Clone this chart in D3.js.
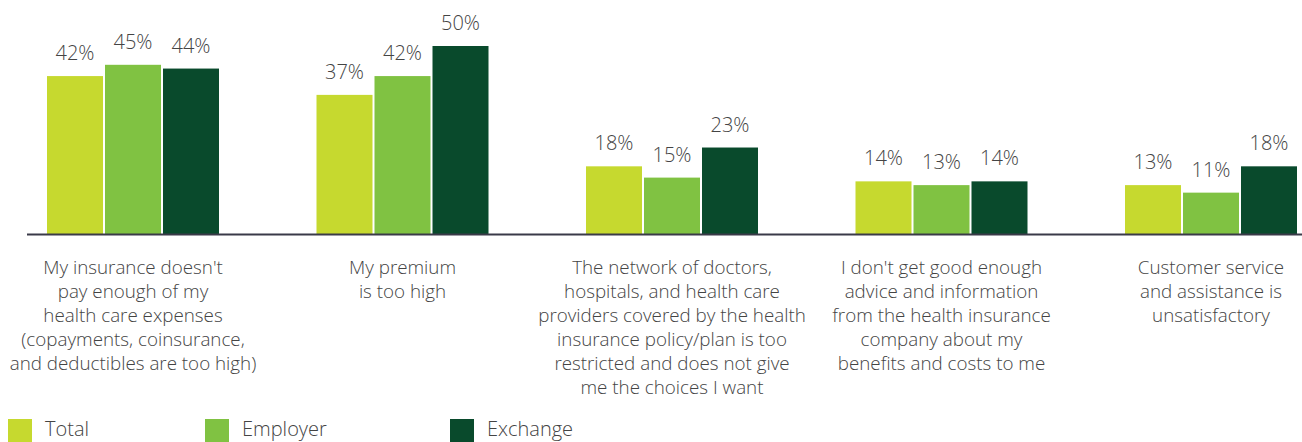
<!DOCTYPE html>
<html>
<head>
<meta charset="utf-8">
<script src="https://cdn.jsdelivr.net/npm/d3@7"></script>
<style>
  html, body { margin: 0; padding: 0; background: #fff; }
  svg { display: block; font-family: "Open Sans", "Noto Sans", sans-serif; }
</style>
</head>
<body>
<svg id="chart" width="1302" height="442"></svg>
<script>
// Reasons for dissatisfaction, each split into display lines
const categories = [
  ["My insurance doesn't", "pay enough of my", "health care expenses", "(copayments, coinsurance,", "and deductibles are too high)"],
  ["My premium", "is too high"],
  ["The network of doctors,", "hospitals, and health care", "providers covered by the health", "insurance policy/plan is too", "restricted and does not give", "me the choices I want"],
  ["I don't get good enough", "advice and information", "from the health insurance", "company about my", "benefits and costs to me"],
  ["Customer service", "and assistance is", "unsatisfactory"]
];
const seriesNames = ["Total", "Employer", "Exchange"];
const totalValues = [42, 37, 18, 14, 13];
const employerValues = [45, 42, 15, 13, 11];
const exchangeValues = [44, 50, 23, 14, 18];
const seriesColors = ["#c6d92f", "#80c242", "#094a2c"];

const seriesValues = [totalValues, employerValues, exchangeValues];
const rows = categories.map((lines, i) => ({
  key: i,
  lines,
  values: seriesValues.map((vals, s) => ({ series: s, value: vals[i] }))
}));

const svg = d3.select("#chart");
const baseY = 234;

const x0 = d3.scalePoint()
  .domain(rows.map(d => d.key))
  .range([133, 1211]);

const x1 = d3.scaleBand()
  .domain(seriesNames.map((_, s) => s))
  .range([-86, 86])
  .paddingInner(2 / 58)
  .paddingOuter(0);

const y = d3.scaleLinear().domain([0, 50]).range([baseY, 46]);

const groups = svg.selectAll("g.group")
  .data(rows)
  .join("g")
  .attr("class", "group")
  .attr("transform", d => `translate(${x0(d.key)},0)`);

groups.selectAll("rect")
  .data(d => d.values)
  .join("rect")
  .attr("x", d => x1(d.series))
  .attr("width", x1.bandwidth())
  .attr("y", d => y(d.value))
  .attr("height", d => baseY - y(d.value))
  .attr("fill", d => seriesColors[d.series]);

groups.selectAll("text.value")
  .data(d => d.values)
  .join("text")
  .attr("class", "value")
  .attr("x", d => x1(d.series) + x1.bandwidth() / 2)
  .attr("y", d => y(d.value) - 16)
  .attr("text-anchor", "middle")
  .attr("font-size", 20)
  .attr("font-weight", 300)
  .attr("fill", "#444")
  .text(d => d.value + "%");

// Baseline
svg.append("line")
  .attr("x1", 27).attr("x2", 1302)
  .attr("y1", baseY + 0.5).attr("y2", baseY + 0.5)
  .attr("stroke", "#3a3a48")
  .attr("stroke-width", 2);

// Category labels
groups.append("text")
  .attr("class", "cat")
  .attr("text-anchor", "middle")
  .attr("font-size", 18.8)
  .attr("font-weight", 300)
  .attr("fill", "#444")
  .selectAll("tspan")
  .data(d => d.lines)
  .join("tspan")
  .attr("x", 0)
  .attr("y", (d, i) => 274 + i * 24)
  .text(d => d);

// Legend
const legendX = [8, 205, 450];
const legend = svg.selectAll("g.legend")
  .data(seriesNames)
  .join("g")
  .attr("class", "legend")
  .attr("transform", (d, i) => `translate(${legendX[i]},419)`);

legend.append("rect")
  .attr("width", 24).attr("height", 24)
  .attr("fill", (d, i) => seriesColors[i]);

legend.append("text")
  .attr("x", 37)
  .attr("y", 17)
  .attr("font-size", 20)
  .attr("font-weight", 300)
  .attr("fill", "#444")
  .text(d => d);
</script>
</body>
</html>
